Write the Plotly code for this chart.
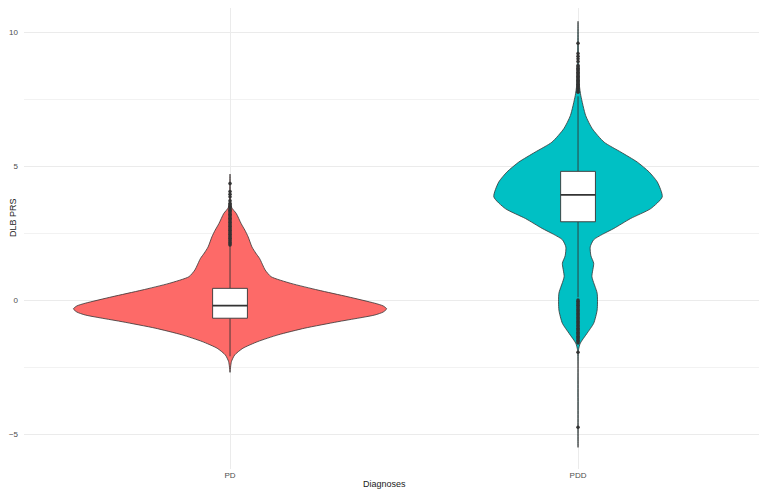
import plotly.graph_objects as go

# categories
categories = ["PD", "PDD"]
fill_colors = ["#FD6A68", "#00C0C4"]

# violin outlines: value and half width (category units)
pd_y = [4.7, 3.47, 3.23, 2.85, 2.6, 2.36, 1.98, 1.75, 1.55, 1.12, 0.87, 0.62, 0.37, 0.12,
        -0.12, -0.22, -0.33, -0.45, -0.56, -0.81, -1.05, -1.30, -1.55, -1.80, -2.05, -2.30, -2.7]
pd_hw = [0.0, 0.004, 0.018, 0.032, 0.043, 0.052, 0.063, 0.074, 0.085, 0.101, 0.118, 0.175,
         0.253, 0.339, 0.416, 0.44, 0.45, 0.44, 0.416, 0.31, 0.215, 0.138, 0.08, 0.037,
         0.0135, 0.004, 0.0]

pdd_y = [10.4, 9.0, 8.0, 7.63, 6.88, 6.39, 5.89, 5.52, 5.15, 4.78, 4.40, 3.85, 3.41, 3.04,
         2.67, 2.45, 2.25, 1.98, 1.65, 1.37, 0.87, 0.25, -0.37, -0.87, -1.24, -1.61, -1.86, -5.5]
pdd_hw = [0.0, 0.0015, 0.004, 0.008, 0.022, 0.041, 0.075, 0.123, 0.17, 0.204, 0.228, 0.242,
          0.209, 0.151, 0.103, 0.07, 0.045, 0.035, 0.037, 0.045, 0.04, 0.055, 0.055, 0.045,
          0.026, 0.0066, 0.0015, 0.0]

# box statistics
q1 = [-0.68, 2.92]
median = [-0.21, 3.92]
q3 = [0.435, 4.80]
lower_whisker = [-2.1, 0.1]
upper_whisker = [2.05, 7.6]

# outliers
pd_out = [2.05, 2.1, 2.15, 2.2, 2.25, 2.3, 2.35, 2.4, 2.45, 2.5, 2.55, 2.6, 2.65, 2.7, 2.75,
          2.8, 2.85, 2.9, 2.95, 3.0, 3.05, 3.1, 3.15, 3.2, 3.25, 3.3, 3.35, 3.4, 3.45, 3.5,
          3.55, 3.6, 3.7, 3.85, 3.95, 4.05, 4.35]
pdd_out = [7.75, 7.8, 7.85, 7.9, 7.95, 8.0, 8.05, 8.1, 8.15, 8.2, 8.25, 8.3, 8.35, 8.4, 8.45,
           8.5, 8.55, 8.6, 8.65, 8.7, 8.75, 8.9, 9.0, 9.1, 9.2, 9.58,
           0.0, -0.05, -0.1, -0.15, -0.2, -0.25, -0.3, -0.35, -0.4, -0.45, -0.5, -0.55, -0.6,
           -0.65, -0.7, -0.75, -0.8, -0.85, -0.9, -0.95, -1.0, -1.05, -1.1, -1.15, -1.2,
           -1.25, -1.3, -1.35, -1.4, -1.45, -1.5, -1.55, -1.6, -1.95, -4.75]

violins = [(pd_y, pd_hw), (pdd_y, pdd_hw)]
outliers = [pd_out, pdd_out]
BOX_HALF = 0.05
EDGE = '#333333'

fig = go.Figure()

for i, (vy, vw) in enumerate(violins):
    xs = [i + w for w in vw] + [i - w for w in vw[::-1]]
    ys = list(vy) + list(vy[::-1])
    fig.add_trace(go.Scatter(
        x=xs, y=ys, mode='lines', fill='toself',
        fillcolor=fill_colors[i],
        line=dict(color=EDGE, width=0.8, shape='spline', smoothing=0.6),
        hoverinfo='skip', showlegend=False
    ))

# boxplots drawn as scatter so they stay above the violins
for i in range(len(categories)):
    # whiskers
    fig.add_trace(go.Scatter(
        x=[i, i, None, i, i],
        y=[q3[i], upper_whisker[i], None, q1[i], lower_whisker[i]],
        mode='lines', line=dict(color=EDGE, width=0.9),
        hoverinfo='skip', showlegend=False
    ))
    # box
    fig.add_trace(go.Scatter(
        x=[i - BOX_HALF, i + BOX_HALF, i + BOX_HALF, i - BOX_HALF, i - BOX_HALF],
        y=[q1[i], q1[i], q3[i], q3[i], q1[i]],
        mode='lines', fill='toself', fillcolor='white',
        line=dict(color=EDGE, width=0.9),
        hoverinfo='skip', showlegend=False
    ))
    # median
    fig.add_trace(go.Scatter(
        x=[i - BOX_HALF, i + BOX_HALF], y=[median[i], median[i]],
        mode='lines', line=dict(color=EDGE, width=1.8),
        hoverinfo='skip', showlegend=False
    ))
    # outliers
    fig.add_trace(go.Scatter(
        x=[i] * len(outliers[i]), y=outliers[i], mode='markers',
        marker=dict(size=3.5, color=EDGE),
        showlegend=False
    ))

# page body has an 8px margin, so the figure is 8px smaller and shifted
fig.update_layout(
    width=759, height=482,
    margin=dict(l=16, r=0, t=0, b=21),
    paper_bgcolor='white', plot_bgcolor='white',
    font=dict(family='Liberation Sans, Arial, sans-serif'),
    showlegend=False,
    xaxis=dict(
        range=[-0.592, 1.543], tickvals=[0, 1], ticktext=categories,
        showgrid=True, gridcolor='#EBEBEB', gridwidth=1, zeroline=False,
        tickfont=dict(size=8, color='#4D4D4D'), ticks='', showline=False
    ),
    yaxis=dict(
        range=[-6.306, 10.896], tickvals=[-5, 0, 5, 10],
        showgrid=True, gridcolor='#EBEBEB', gridwidth=1, zeroline=False,
        tickfont=dict(size=8, color='#4D4D4D'), ticks='', showline=False,
        ticklabelstandoff=5,
        minor=dict(tickvals=[-2.5, 2.5, 7.5], showgrid=True,
                   gridcolor='#F2F2F2', gridwidth=0.6)
    ),
    annotations=[
        dict(text='Diagnoses', x=(376 - 16) / 743, xref='paper',
             y=-(476 - 461) / 461, yref='paper', xanchor='center', yanchor='middle',
             showarrow=False, font=dict(size=9, color='#1A1A1A')),
        dict(text='DLB PRS', textangle=-90, x=-(16 - 5) / 743, xref='paper',
             y=(461 - 210) / 461, yref='paper', xanchor='center', yanchor='middle',
             showarrow=False, font=dict(size=9, color='#1A1A1A'))
    ]
)

fig.write_html("out.html")
